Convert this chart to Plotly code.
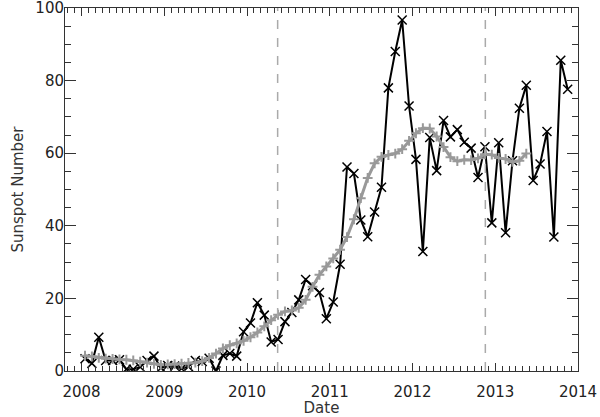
"""Monthly and smoothed sunspot number, 2008-2013."""
import plotly.graph_objects as go

# monthly sunspot number, Jan 2008 .. Nov 2013
monthly_ssn = [
    3.4, 2.1, 9.3, 2.9, 2.9, 3.1, 0.5, 0.5, 1.1, 2.9, 4.1, 0.8,
    1.5, 1.4, 0.7, 1.2, 2.9, 2.6, 3.5, 0.0, 4.3, 4.8, 4.1, 10.8,
    13.2, 18.8, 15.4, 8.0, 8.7, 13.6, 16.1, 19.6, 25.2, 23.5, 21.6, 14.4,
    19.0, 29.4, 56.2, 54.4, 41.6, 37.0, 43.8, 50.6, 78.0, 88.0, 96.7, 73.0,
    58.3, 32.9, 64.3, 55.2, 69.0, 64.5, 66.5, 63.0, 61.4, 53.3, 61.8, 40.8,
    62.9, 38.1, 57.9, 72.4, 78.7, 52.5, 57.0, 66.0, 36.9, 85.6, 77.6,
]

# 13-month smoothed sunspot number, Jan 2008 .. May 2013
smoothed_ssn = [
    4.2, 4.0, 3.6, 3.4, 3.3, 3.2, 3.1, 2.9, 2.6, 2.3, 2.0, 1.7,
    1.8, 1.9, 2.0, 2.2, 2.3, 2.7, 3.6, 4.8, 6.2, 7.1, 7.6, 8.3,
    9.3, 10.6, 12.3, 14.0, 15.5, 16.4, 16.7, 17.4, 19.6, 23.2, 26.5, 28.8,
    31.0, 33.4, 36.9, 41.8, 47.6, 53.2, 57.2, 59.0, 59.5, 59.9, 61.1, 63.4,
    65.5, 66.9, 66.8, 64.6, 61.7, 58.9, 57.8, 58.2, 58.1, 58.6, 59.7, 59.6,
    58.7, 58.4, 57.6, 57.9, 59.9,
]

event_dates = [2010.37, 2012.88]
year_ticks = [2008, 2009, 2010, 2011, 2012, 2013, 2014]
ssn_ticks = [0, 20, 40, 60, 80, 100]


def month_centres(n, start=2008):
    return [start + (i + 0.5) / 12 for i in range(n)]


fig = go.Figure()

for xd in event_dates:
    fig.add_shape(type="line", x0=xd, x1=xd, y0=0, y1=1, yref="paper",
                  line=dict(color="#aaaaaa", width=1.5, dash="dash"))

fig.add_trace(go.Scatter(
    x=month_centres(len(monthly_ssn)),
    y=monthly_ssn,
    mode="lines+markers",
    name="Monthly",
    line=dict(color="black", width=2),
    marker=dict(symbol="x-thin", size=9, line=dict(color="black", width=1.5)),
))

fig.add_trace(go.Scatter(
    x=month_centres(len(smoothed_ssn)),
    y=smoothed_ssn,
    mode="lines+markers",
    name="Smoothed",
    line=dict(color="#999999", width=3),
    marker=dict(symbol="cross-thin", size=7, line=dict(color="#999999", width=2)),
))

axis_font = dict(family="DejaVu Sans", size=15, color="#222222")
title_font = dict(family="DejaVu Sans", size=15, color="#333333")

fig.update_xaxes(
    range=[2007.8, 2014.0],
    tickvals=year_ticks,
    ticktext=[str(y) for y in year_ticks],
    ticks="inside", ticklen=8, tickwidth=1, tickcolor="#333333",
    minor=dict(ticks="inside", ticklen=5, dtick=1 / 12, tick0=2008, tickcolor="#333333"),
    showline=True, linecolor="#333333", linewidth=1, mirror="ticks",
    showgrid=False, zeroline=False, automargin=False,
    tickfont=axis_font, ticklabeloverflow="allow", ticklabelstandoff=7,
    title=dict(text="Date", font=title_font, standoff=3),
)
fig.update_yaxes(
    range=[0, 100],
    tickvals=ssn_ticks,
    ticks="inside", ticklen=11, tickwidth=1, tickcolor="#333333",
    minor=dict(ticks="inside", ticklen=6, dtick=5, tickcolor="#333333"),
    showline=True, linecolor="#333333", linewidth=1, mirror="ticks",
    showgrid=False, zeroline=False, automargin=False,
    tickfont=axis_font, ticklabeloverflow="allow", ticklabelstandoff=-3,
    title=dict(text="Sunspot Number", font=title_font, standoff=8),
)

fig.update_layout(
    width=600, height=417,
    margin=dict(l=65, r=22, t=8, b=46),
    plot_bgcolor="white", paper_bgcolor="white",
    showlegend=False,
)

# drop the default page margin so the figure sits at the window corner
fig.write_html("out.html", config={"displayModeBar": False},
               post_script="document.body.style.margin='0px';")
